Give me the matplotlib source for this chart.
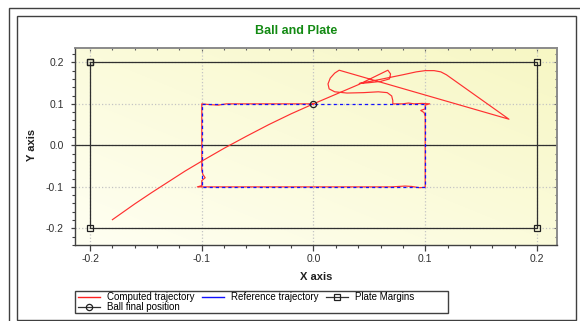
import numpy as np
import matplotlib
matplotlib.use("Agg")
import matplotlib.pyplot as plt
from matplotlib.lines import Line2D
from matplotlib.patches import Rectangle
from matplotlib.ticker import MultipleLocator, FormatStrFormatter

plt.rcParams['font.family'] = ['Liberation Sans', 'DejaVu Sans']
plt.rcParams['axes.unicode_minus'] = False

# ---------------- data ----------------
title = "Ball and Plate"
x_label = "X axis"
y_label = "Y axis"
major_ticks = [-0.2, -0.1, 0.0, 0.1, 0.2]

# computed trajectory (red)
comp_x = [-0.180, -0.170, -0.160, -0.145, -0.130, -0.115, -0.100, -0.080, -0.060,
          -0.040, -0.020, 0.000, 0.020, 0.040, 0.0666,
          0.069, 0.068, 0.060, 0.050, 0.041, 0.060, 0.080, 0.092, 0.100, 0.108,
          0.114, 0.119,
          0.175,
          0.023, 0.019, 0.015, 0.013, 0.014, 0.019, 0.030, 0.045, 0.058, 0.066, 0.070,
          0.071, 0.071,
          0.080, 0.085, 0.090, 0.097, 0.104, 0.100, 0.100, 0.096, 0.099, 0.100,
          0.100, 0.100, 0.095, 0.088, 0.082, 0.076, 0.070, -0.100, -0.104,
          -0.100, -0.100, -0.097, -0.099, -0.100, -0.100, -0.100, -0.092, -0.085,
          -0.078, 0.000]
comp_y = [-0.179, -0.160, -0.141, -0.114, -0.088, -0.062, -0.038, -0.007, 0.022,
          0.050, 0.076, 0.100, 0.123, 0.146, 0.181,
          0.172, 0.160, 0.154, 0.151, 0.149, 0.159, 0.170, 0.177, 0.180, 0.180,
          0.177, 0.170,
          0.063,
          0.181, 0.174, 0.162, 0.148, 0.136, 0.129, 0.126, 0.127, 0.129, 0.127, 0.119,
          0.108, 0.100,
          0.100, 0.102, 0.100, 0.101, 0.100, 0.097, 0.088, 0.084, 0.079, 0.070,
          -0.095, -0.101, -0.102, -0.099, -0.098, -0.099, -0.100, -0.100, -0.100,
          -0.097, -0.085, -0.078, -0.070, -0.060, 0.098, 0.100, 0.098, 0.097,
          0.100, 0.100]

# reference trajectory (blue)
ref_x = [-0.1, 0.1, 0.1, -0.1, -0.1]
ref_y = [0.1, 0.1, -0.1, -0.1, 0.1]

# plate margins
plate_x = [-0.2, 0.2, 0.2, -0.2, -0.2]
plate_y = [0.2, 0.2, -0.2, -0.2, 0.2]

# ball final position
ball_x = [0.0]
ball_y = [0.1]

# ---------------- figure ----------------
W, H = 580, 321
fig = plt.figure(figsize=(W / 100, H / 100), dpi=100)
fig.patch.set_facecolor('white')

def fx(px):
    return px / W

def fy(py):
    return 1 - py / H

# frames
fig.add_artist(Rectangle((fx(9), fy(330)), 1.2, fy(8) - fy(330), transform=fig.transFigure,
                         fill=False, edgecolor='#404040', lw=1.0, zorder=0))
fig.add_artist(Rectangle((fx(17), fy(320)), fx(576) - fx(17), fy(16) - fy(320),
                         transform=fig.transFigure, fill=False, edgecolor='#404040',
                         lw=1.0, zorder=0))

ax = fig.add_axes([fx(75), fy(245), fx(557) - fx(75), fy(48) - fy(245)])

# gradient background
n = 60
gx, gy = np.meshgrid(np.linspace(0, 1, n), np.linspace(0, 1, n))
t = (gx + gy) / 2
c0 = np.array([255, 255, 242]) / 255.0
c1 = np.array([247, 247, 196]) / 255.0
grad = c0[None, None, :] * (1 - t[..., None]) + c1[None, None, :] * t[..., None]
ax.imshow(grad, extent=[0, 1, 0, 1], transform=ax.transAxes, origin='lower',
          aspect='auto', zorder=0, interpolation='bilinear')

ax.set_xlim(-0.2135, 0.218)
ax.set_ylim(-0.240, 0.2345)

ax.grid(True, which='major', ls=':', color='#c4c4c4', lw=0.9, zorder=0.5)
ax.set_axisbelow(True)
ax.axhline(0, color='#303030', lw=0.9, zorder=1)

ax.plot(plate_x, plate_y, color='#303030', lw=0.9, marker='s', ms=4.5,
        mfc='none', mec='#202020', mew=0.9, zorder=2)
ax.plot(comp_x, comp_y, color='#ff3030', lw=0.85, zorder=3)
ax.plot(ref_x, ref_y, color='#1010ff', lw=0.9, ls=(0, (2.5, 2.5)), zorder=4)
ax.plot(ball_x, ball_y, ls='none', marker='o', ms=4.5, mfc='none', mec='#202020',
        mew=0.9, zorder=5)

# ticks
ax.set_xticks(major_ticks)
ax.set_yticks(major_ticks)
ax.xaxis.set_minor_locator(MultipleLocator(0.02))
ax.yaxis.set_minor_locator(MultipleLocator(0.02))
ax.xaxis.set_major_formatter(FormatStrFormatter('%.1f'))
ax.yaxis.set_major_formatter(FormatStrFormatter('%.1f'))
ax.tick_params(axis='x', which='major', direction='out', length=4, width=0.9,
               color='#404040', labelsize=7.5, labelcolor='#303030', pad=2.5)
ax.tick_params(axis='x', which='minor', direction='out', length=1.8, width=0.8,
               color='#404040')
ax.tick_params(axis='y', which='major', direction='out', length=3, width=0.9,
               color='#404040', labelsize=7.5, labelcolor='#303030', pad=5)
ax.tick_params(axis='y', which='minor', direction='out', length=2, width=0.8,
               color='#404040')

for s in ['left', 'bottom']:
    ax.spines[s].set_color('#404040')
    ax.spines[s].set_linewidth(1.0)
for s in ['top', 'right']:
    ax.spines[s].set_color('#8a8a8a')
    ax.spines[s].set_linewidth(1.2)

sx = ax.secondary_xaxis('top')
sx.set_xticks(major_ticks)
sx.xaxis.set_minor_locator(MultipleLocator(0.02))
sx.tick_params(axis='x', which='both', direction='in', labeltop=False, color='#606060')
sx.tick_params(axis='x', which='major', length=2.5, width=0.8)
sx.tick_params(axis='x', which='minor', length=1.6, width=0.8)
sx.spines['top'].set_color('#8a8a8a')
sx.spines['top'].set_linewidth(1.2)

sy = ax.secondary_yaxis('right')
sy.set_yticks(major_ticks)
sy.yaxis.set_minor_locator(MultipleLocator(0.02))
sy.tick_params(axis='y', which='both', direction='in', labelright=False, color='#606060')
sy.tick_params(axis='y', which='major', length=2.5, width=0.8)
sy.tick_params(axis='y', which='minor', length=1.6, width=0.8)
sy.spines['right'].set_color('#8a8a8a')
sy.spines['right'].set_linewidth(1.2)

# texts
fig.text(fx(296.5), fy(31.5), title, ha='center', va='center', fontsize=9,
         fontweight='bold', color='#138a13')
fig.text(fx(316), fy(277), x_label, ha='center', va='center', fontsize=8,
         fontweight='bold', color='#202020')
fig.text(fx(32), fy(145), y_label, ha='center', va='center', fontsize=8,
         fontweight='bold', color='#202020', rotation=90)

# legend
fig.add_artist(Rectangle((fx(75), fy(313)), fx(448) - fx(75), fy(291) - fy(313),
                         transform=fig.transFigure, facecolor='white',
                         edgecolor='#404040', lw=1.0, zorder=1))
h_comp = Line2D([], [], color='#ff2020', lw=1.0)
h_ref = Line2D([], [], color='#1010ff', lw=1.0)
h_plate = Line2D([], [], color='#303030', lw=0.9, marker='s', ms=4.5, mfc='none',
                 mec='#202020', mew=0.9)
h_ball = Line2D([], [], color='#303030', lw=0.9, marker='o', ms=4.5, mfc='none',
                mec='#202020', mew=0.9)
fig.legend([h_comp, h_ball, h_ref, h_plate],
           ["Computed trajectory", "Ball final position", "Reference trajectory",
            "Plate Margins"],
           loc='upper left', bbox_to_anchor=(fx(78), fy(292)), ncol=3,
           frameon=False, fontsize=7, handlelength=2.26, handletextpad=0.7,
           columnspacing=0.8, labelspacing=0.05, borderpad=0, borderaxespad=0,
           numpoints=1)

fig.savefig('out.png', dpi=100)
